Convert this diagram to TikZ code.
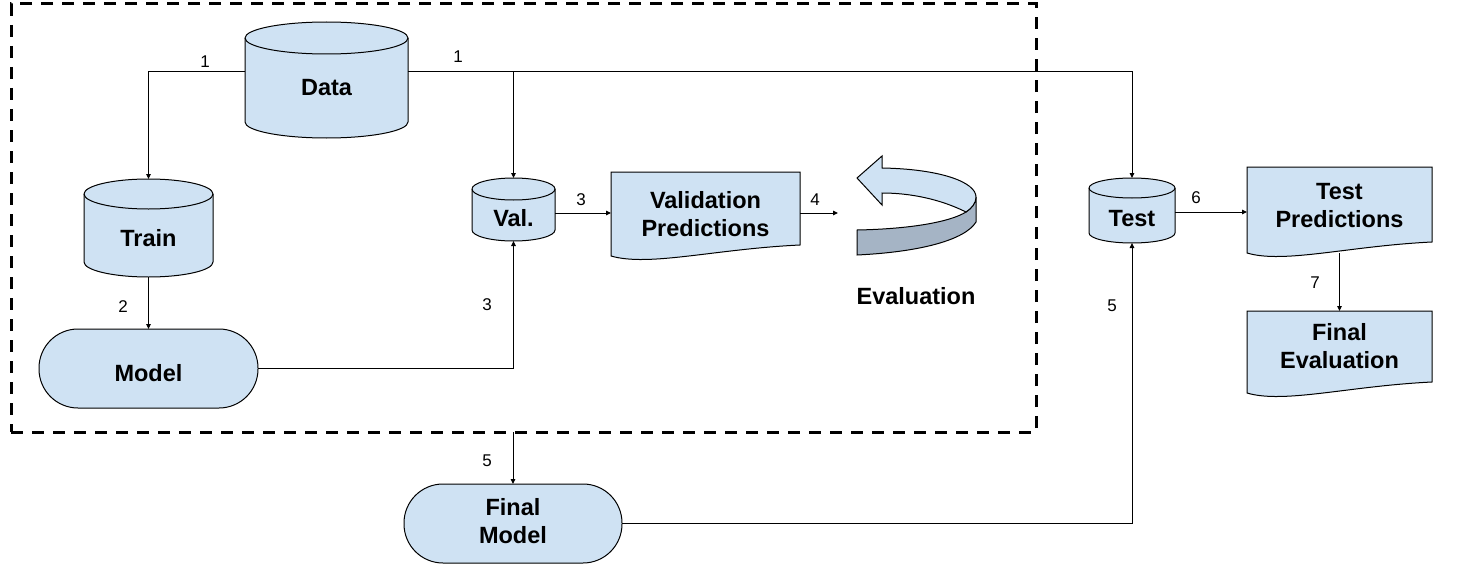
\documentclass[tikz,border=0pt]{standalone}
\usepackage{fontspec}
\setmainfont{Liberation Sans}
\usetikzlibrary{arrows.meta,calc}
\definecolor{boxfill}{HTML}{CFE2F3}
\definecolor{darkband}{HTML}{A5B4C5}
% cylinder: name, x1, y1, x2, y2, ry, text-y, text
\newcommand\mycyl[8]{%
  \pgfmathsetmacro\mycx{(#2+#4)/2}%
  \pgfmathsetmacro\myrx{(#4-#2)/2}%
  \pgfmathsetmacro\myya{#3+#6}%
  \pgfmathsetmacro\myyb{#5-#6}%
  \pgfmathsetmacro\mykx{0.5523*\myrx}%
  \pgfmathsetmacro\myky{0.5523*#6}%
  \draw[shp] (#2,\myya) -- (#2,\myyb)
     .. controls (#2,\myyb+\myky) and (\mycx-\mykx,#5) .. (\mycx,#5)
     .. controls (\mycx+\mykx,#5) and (#4,\myyb+\myky) .. (#4,\myyb)
     -- (#4,\myya)
     .. controls (#4,\myya-\myky) and (\mycx+\mykx,#3) .. (\mycx,#3)
     .. controls (\mycx-\mykx,#3) and (#2,\myya-\myky) .. (#2,\myya) -- cycle;
  \draw[line width=1pt] (#2,\myya)
     .. controls (#2,\myya+\myky) and (\mycx-\mykx,\myya+#6) .. (\mycx,\myya+#6)
     .. controls (\mycx+\mykx,\myya+#6) and (#4,\myya+\myky) .. (#4,\myya);
  \node[hold, minimum width={(#4-#2)*1pt}, minimum height={(#5-#3)*1pt}] (#1) at (\mycx,{(#3+#5)/2}) {};
  \node[lbl] (#1-t) at (\mycx,#7) {#8};
}
% document: name, x1, y1, x2, yb, text-y, text
\newcommand\mydoc[7]{%
  \pgfmathsetmacro\mycx{(#2+#4)/2}%
  \pgfmathsetmacro\myw{#4-#2}%
  \draw[shp] (#2,#3) -- (#4,#3) -- (#4,#5)
     .. controls (#2+0.55*\myw,#5+4) and (#2+0.2*\myw,#5+22) .. (#2,#5+11) -- cycle;
  \node[hold, minimum width={(#4-#2)*1pt}, minimum height={(#5+11-#3)*1pt}] (#1) at (\mycx,{(#3+#5+11)/2}) {};
  \node[lbl] (#1-t) at (\mycx,#6) {#7};
}
\begin{document}
\begin{tikzpicture}[x=1pt,y=-1pt,
  conn/.style={draw, line width=1pt, -{Triangle[length=5pt,width=4.5pt]}},
  shp/.style={draw=black, line width=1pt, fill=boxfill},
  hold/.style={inner sep=0pt, outer sep=0pt},
  lbl/.style={font=\bfseries\fontsize{23.5}{28}\selectfont, align=center, inner sep=0pt},
  num/.style={font=\fontsize{17}{20}\selectfont, inner sep=0pt},
  frame/.style={draw, line width=3pt, dash pattern=on 12pt off 9pt, inner sep=0pt, outer sep=0pt},
  pill/.style={shp, rounded corners=39pt, inner sep=0pt, outer sep=0pt}]
\useasboundingbox (0,0) rectangle (1459,578);

% dashed frame
\node[frame, minimum width=1025pt, minimum height=428pt] (frame) at (523.5,218) {};

% cylinders
\mycyl{data}{245}{22}{408}{138}{16}{88}{Data}
\mycyl{train}{84}{179}{213}{277}{15}{238}{Train}
\mycyl{val}{472}{178}{555}{241}{11}{218}{Val.}
\mycyl{test}{1089}{178}{1175}{243}{10}{219}{Test}

% pills
\node[pill, minimum width=219pt, minimum height=79pt] (model) at (148.5,368.5) {};
\node[lbl] (model-t) at (148.5,373) {Model};
\node[pill, minimum width=218pt, minimum height=79pt] (fm) at (513,523.5) {};
\node[lbl] (fm-t) at (513,521) {Final\\Model};

% documents
\mydoc{vp}{611}{172}{800}{245}{214}{Validation\\Predictions}
\mydoc{tp}{1247}{167}{1432}{242}{206}{Test\\Predictions}
\mydoc{fe}{1247}{311}{1432}{382}{346}{Final\\Evaluation}

% evaluation arrow
\fill[darkband, draw=black, line width=1pt] (857,230) .. controls (910,229) and (950,222) .. (966,212)
   .. controls (972,208) and (976,203) .. (976,197) -- (976,222)
   .. controls (965,240) and (920,252) .. (857,255) -- cycle;
\draw[shp] (857,178) -- (882,156) -- (882,168) .. controls (940,169) and (976,182) .. (976,197)
   .. controls (976,203) and (972,208) .. (966,212)
   .. controls (940,199) and (910,193) .. (882,193) -- (882,205) -- cycle;
\node[lbl] (evaltxt) at (916,296) {Evaluation};

% connectors
\coordinate (dl) at ($(data.west)+(0,-8)$);
\coordinate (dr) at ($(data.east)+(0,-8)$);
\coordinate (e4) at (838,213);
\draw[conn] (dl) -| (train.north);
\draw[conn] (dr) -| (test.north);
\draw[conn] (dr -| val.north) -- (val.north);
\draw[conn] (train.south) -- (model.north);
\draw[conn] (model.east) -| (val.south);
\draw[conn] ($(val.east)+(0,3.5)$) -- ($(val.east -| vp.west)+(0,3.5)$);
\draw[conn] (vp.east |- e4) -- (e4);
\draw[conn] (frame.south -| fm.north) -- (fm.north);
\draw[conn] (fm.east) -| (test.south);
\draw[conn] ($(test.east)+(0,1.5)$) -- ($(test.east -| tp.west)+(0,1.5)$);
\draw[conn] (tp.south) -- (fe.north);

% numbers
\node[num] (n1a) at (205,62) {1};
\node[num] (n1b) at (458,57) {1};
\node[num] (n2) at (123,307) {2};
\node[num] (n3a) at (581,200) {3};
\node[num] (n3b) at (487,305) {3};
\node[num] (n4) at (815,200) {4};
\node[num] (n5a) at (487,461) {5};
\node[num] (n5b) at (1112,306) {5};
\node[num] (n6) at (1196,198) {6};
\node[num] (n7) at (1315,283) {7};
\end{tikzpicture}
\end{document}
